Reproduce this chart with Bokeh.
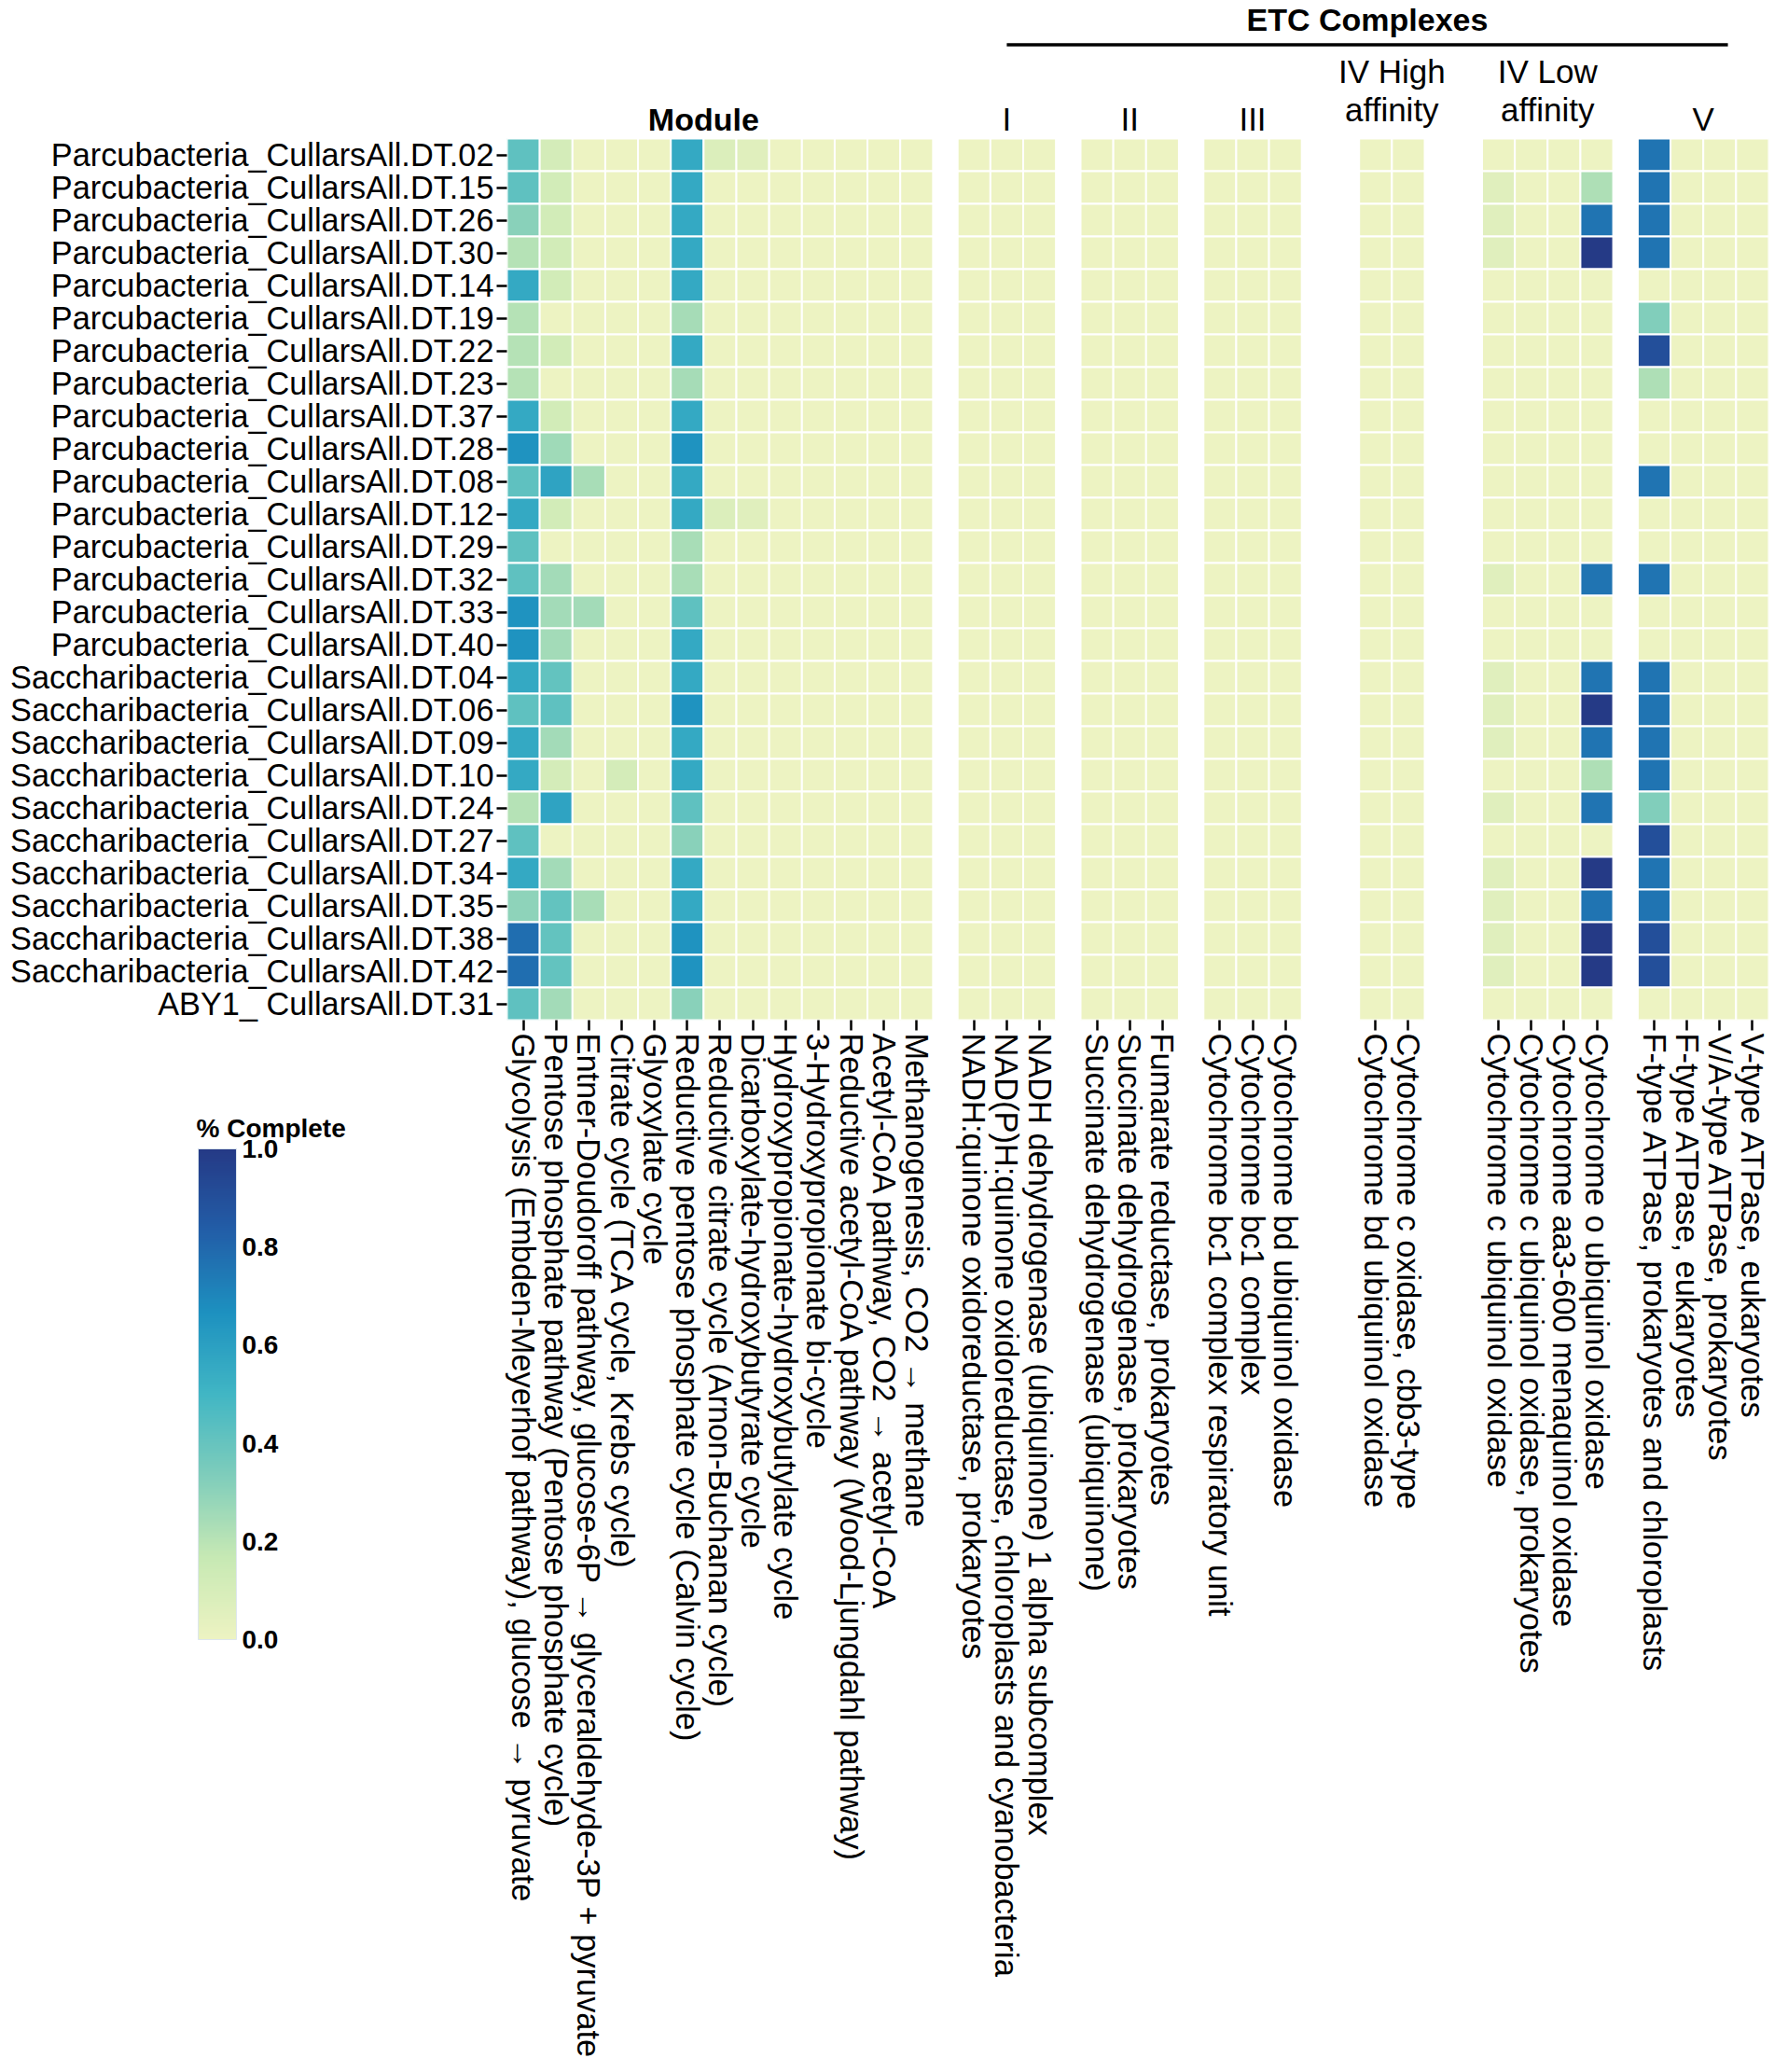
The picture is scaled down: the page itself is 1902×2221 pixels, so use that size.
import numpy as np
from bokeh.plotting import figure
from bokeh.models import (ColumnDataSource, LinearColorMapper, ColorBar, FixedTicker,
                          Range1d, PrintfTickFormatter)
from bokeh.core.properties import value
from bokeh.embed import file_html
from bokeh.resources import INLINE

# ---------------- data ----------------
genomes = [
    "Parcubacteria_CullarsAll.DT.02", "Parcubacteria_CullarsAll.DT.15",
    "Parcubacteria_CullarsAll.DT.26", "Parcubacteria_CullarsAll.DT.30",
    "Parcubacteria_CullarsAll.DT.14", "Parcubacteria_CullarsAll.DT.19",
    "Parcubacteria_CullarsAll.DT.22", "Parcubacteria_CullarsAll.DT.23",
    "Parcubacteria_CullarsAll.DT.37", "Parcubacteria_CullarsAll.DT.28",
    "Parcubacteria_CullarsAll.DT.08", "Parcubacteria_CullarsAll.DT.12",
    "Parcubacteria_CullarsAll.DT.29", "Parcubacteria_CullarsAll.DT.32",
    "Parcubacteria_CullarsAll.DT.33", "Parcubacteria_CullarsAll.DT.40",
    "Saccharibacteria_CullarsAll.DT.04", "Saccharibacteria_CullarsAll.DT.06",
    "Saccharibacteria_CullarsAll.DT.09", "Saccharibacteria_CullarsAll.DT.10",
    "Saccharibacteria_CullarsAll.DT.24", "Saccharibacteria_CullarsAll.DT.27",
    "Saccharibacteria_CullarsAll.DT.34", "Saccharibacteria_CullarsAll.DT.35",
    "Saccharibacteria_CullarsAll.DT.38", "Saccharibacteria_CullarsAll.DT.42",
    "ABY1_ CullarsAll.DT.31",
]

module_names = [
    "Glycolysis (Embden-Meyerhof pathway), glucose \u2192 pyruvate",
    "Pentose phosphate pathway (Pentose phosphate cycle)",
    "Entner-Doudoroff pathway, glucose-6P \u2192 glyceraldehyde-3P + pyruvate",
    "Citrate cycle (TCA cycle, Krebs cycle)",
    "Glyoxylate cycle",
    "Reductive pentose phosphate cycle (Calvin cycle)",
    "Reductive citrate cycle (Arnon-Buchanan cycle)",
    "Dicarboxylate-hydroxybutyrate cycle",
    "Hydroxypropionate-hydroxybutylate cycle",
    "3-Hydroxypropionate bi-cycle",
    "Reductive acetyl-CoA pathway (Wood-Ljungdahl pathway)",
    "Acetyl-CoA pathway, CO2 \u2192 acetyl-CoA",
    "Methanogenesis, CO2 \u2192 methane",
]
complex_I = ["NADH:quinone oxidoreductase, prokaryotes",
             "NAD(P)H:quinone oxidoreductase, chloroplasts and cyanobacteria",
             "NADH dehydrogenase (ubiquinone) 1 alpha subcomplex"]
complex_II = ["Succinate dehydrogenase (ubiquinone)",
              "Succinate dehydrogenase, prokaryotes",
              "Fumarate reductase, prokaryotes"]
complex_III = ["Cytochrome bc1 complex respiratory unit",
               "Cytochrome bc1 complex",
               "Cytochrome bd ubiquinol oxidase"]
complex_IV_high = ["Cytochrome bd ubiquinol oxidase",
                   "Cytochrome c oxidase, cbb3-type"]
complex_IV_low = ["Cytochrome c ubiquinol oxidase",
                  "Cytochrome c ubiquinol oxidase, prokaryotes",
                  "Cytochrome aa3-600 menaquinol oxidase",
                  "Cytochrome o ubiquinol oxidase"]
complex_V = ["F-type ATPase, prokaryotes and chloroplasts",
             "F-type ATPase, eukaryotes",
             "V/A-type ATPase, prokaryotes",
             "V-type ATPase, eukaryotes"]

group_top_labels = ["", "", "", "IV High", "IV Low", ""]
group_bottom_labels = ["I", "II", "III", "affinity", "affinity", "V"]

# fraction complete per column (27 genomes, top to bottom)
zero_col = [0, 0, 0, 0, 0, 0, 0, 0, 0, 0, 0, 0, 0, 0, 0, 0, 0, 0, 0, 0, 0, 0, 0, 0, 0, 0, 0]
glycolysis = [0.42, 0.42, 0.31, 0.21, 0.56, 0.21, 0.21, 0.21, 0.56, 0.66, 0.42, 0.56, 0.42, 0.42,
              0.66, 0.66, 0.56, 0.42, 0.56, 0.56, 0.21, 0.42, 0.56, 0.30, 0.78, 0.78, 0.42]
pentose_phosphate = [0.11, 0.12, 0.12, 0.12, 0.12, 0, 0.12, 0, 0.12, 0.26, 0.585, 0.12, 0, 0.25,
                     0.25, 0.25, 0.41, 0.42, 0.25, 0.11, 0.585, 0, 0.25, 0.41, 0.41, 0.41, 0.25]
entner_doudoroff = [0, 0, 0, 0, 0, 0, 0, 0, 0, 0, 0.24, 0, 0, 0,
                    0.25, 0, 0, 0, 0, 0, 0, 0, 0, 0.24, 0, 0, 0]
citrate_cycle = [0, 0, 0, 0, 0, 0, 0, 0, 0, 0, 0, 0, 0, 0,
                 0, 0, 0, 0, 0, 0.11, 0, 0, 0, 0, 0, 0, 0]
calvin_cycle = [0.56, 0.56, 0.56, 0.56, 0.56, 0.245, 0.56, 0.245, 0.56, 0.66, 0.56, 0.56, 0.24, 0.24,
                0.42, 0.56, 0.56, 0.66, 0.56, 0.56, 0.42, 0.31, 0.56, 0.56, 0.66, 0.66, 0.31]
reductive_citrate = [0.08, 0, 0, 0, 0, 0, 0, 0, 0, 0, 0, 0.08, 0, 0,
                     0, 0, 0, 0, 0, 0, 0, 0, 0, 0, 0, 0, 0]
dicarboxylate = [0.06, 0, 0, 0, 0, 0, 0, 0, 0, 0, 0, 0.06, 0, 0,
                 0, 0, 0, 0, 0, 0, 0, 0, 0, 0, 0, 0, 0]
cyt_c_ubiquinol = [0, 0.06, 0.06, 0.06, 0, 0, 0, 0, 0, 0, 0, 0, 0, 0.06,
                   0, 0, 0.06, 0.06, 0.06, 0, 0.06, 0, 0.06, 0.06, 0.06, 0.06, 0]
cyt_o_ubiquinol = [0, 0.225, 0.76, 1.0, 0, 0, 0, 0, 0, 0, 0, 0, 0, 0.76,
                   0, 0, 0.76, 1.0, 0.76, 0.225, 0.76, 0, 1.0, 0.76, 1.0, 1.0, 0]
f_type_prok = [0.76, 0.76, 0.76, 0.76, 0, 0.33, 0.9, 0.225, 0, 0, 0.76, 0, 0, 0.76,
               0, 0, 0.76, 0.76, 0.76, 0.76, 0.33, 0.9, 0.76, 0.76, 0.9, 0.9, 0]

module_values = [glycolysis, pentose_phosphate, entner_doudoroff, citrate_cycle, zero_col,
                 calvin_cycle, reductive_citrate, dicarboxylate, zero_col, zero_col,
                 zero_col, zero_col, zero_col]
I_values = [zero_col, zero_col, zero_col]
II_values = [zero_col, zero_col, zero_col]
III_values = [zero_col, zero_col, zero_col]
IVh_values = [zero_col, zero_col]
IVl_values = [cyt_c_ubiquinol, zero_col, zero_col, cyt_o_ubiquinol]
V_values = [f_type_prok, zero_col, zero_col, zero_col]

colorbar_ticks = [0.0, 0.2, 0.4, 0.6, 0.8, 1.0]
colorbar_title = "% Complete"

# ---------------- layout / style ----------------
FONT = "Liberation Sans"
W, H = 1900, 2219
FRAME_LEFT, FRAME_RIGHT = 543, 1896
HEAT_TOP, HEAT_BOTTOM = 148, 1093
groups_cols = [module_names, complex_I, complex_II, complex_III, complex_IV_high,
               complex_IV_low, complex_V]
groups_vals = [module_values, I_values, II_values, III_values, IVh_values, IVl_values, V_values]
gaps_after = [0.75, 0.75, 0.75, 1.75, 1.75, 0.75]

n_rows = len(genomes)
col_x, col_names, group_centers = [], [], []
start = 0.0
for gi, names in enumerate(groups_cols):
    for k, nm in enumerate(names):
        col_x.append(start + k + 0.5)
        col_names.append(nm)
    group_centers.append(start + len(names) / 2.0)
    start += len(names)
    if gi < len(gaps_after):
        start += gaps_after[gi]
x_end = start

row_y = [n_rows - i - 0.5 for i in range(n_rows)]
px_per_row = (HEAT_BOTTOM - HEAT_TOP) / n_rows
header_units = HEAT_TOP / px_per_row

xs, ys, vals = [], [], []
ci = 0
for gvals in groups_vals:
    for col in gvals:
        for ri, v in enumerate(col):
            xs.append(col_x[ci]); ys.append(row_y[ri]); vals.append(v)
        ci += 1
src = ColumnDataSource(dict(x=xs, y=ys, val=vals))

stops = ["#edf3c2", "#c7e9b4", "#7fcdbb", "#41b6c4", "#1d91c0", "#225ea8", "#253a86"]
def _hex(c):
    return np.array([int(c[i:i + 2], 16) for i in (1, 3, 5)], dtype=float)
stop_rgb = [_hex(c) for c in stops]
palette = []
for t in np.linspace(0, 1, 256):
    pos = t * (len(stops) - 1)
    i0 = min(int(pos), len(stops) - 2)
    f = pos - i0
    c = stop_rgb[i0] * (1 - f) + stop_rgb[i0 + 1] * f
    palette.append("#%02x%02x%02x" % tuple(int(round(v)) for v in c))
mapper = LinearColorMapper(palette=palette, low=0, high=1)

p = figure(width=W, height=H, x_range=Range1d(0, x_end),
           y_range=Range1d(0, n_rows + header_units),
           output_backend="svg", toolbar_location=None,
           min_border_left=FRAME_LEFT, min_border_right=W - FRAME_RIGHT, min_border_top=0,
           min_border_bottom=H - HEAT_BOTTOM)
p.grid.visible = False
p.outline_line_color = None

p.rect(x="x", y="y", width=1, height=1, source=src,
       fill_color={"field": "val", "transform": mapper},
       line_color="white", line_width=2)

def style_axis(ax, size):
    ax.axis_line_color = None
    ax.major_tick_line_color = "black"
    ax.major_tick_line_width = 2.5
    ax.major_tick_out = 11
    ax.major_tick_in = 0
    ax.minor_tick_line_color = None
    ax.major_label_standoff = 3
    ax.major_label_text_font = FONT
    ax.major_label_text_color = "black"
    ax.major_label_text_font_size = size

p.xaxis.ticker = FixedTicker(ticks=col_x)
p.xaxis.major_label_overrides = {x: nm for x, nm in zip(col_x, col_names)}
p.xaxis.major_label_orientation = -np.pi / 2
style_axis(p.xaxis[0], "34.4px")
p.yaxis.ticker = FixedTicker(ticks=row_y)
p.yaxis.major_label_overrides = {y: nm for y, nm in zip(row_y, genomes)}
style_axis(p.yaxis[0], "34.3px")

top = float(n_rows)
def above(px):
    return top + px / px_per_row

p.text(x=[6.0], y=[above(21)], text=["Module"], text_font=value(FONT),
       text_font_size="34px", text_font_style="bold", text_align="center",
       text_baseline="middle", text_color="black")
etc_centers = group_centers[1:]
single = [i for i, t in enumerate(group_top_labels) if t == ""]
double = [i for i, t in enumerate(group_top_labels) if t != ""]
p.text(x=[etc_centers[i] for i in single], y=[above(21.5)] * len(single),
       text=[group_bottom_labels[i] for i in single], text_font=value(FONT),
       text_font_size="35px", text_align="center", text_baseline="middle",
       text_color="black")
p.text(x=[etc_centers[i] for i in double], y=[above(31.5)] * len(double),
       text=[group_bottom_labels[i] for i in double], text_font=value(FONT),
       text_font_size="35px", text_align="center", text_baseline="middle",
       text_color="black")
p.text(x=[etc_centers[i] for i in double], y=[above(72.5)] * len(double),
       text=[group_top_labels[i] for i in double], text_font=value(FONT),
       text_font_size="35px", text_align="center", text_baseline="middle",
       text_color="black")
etc_x0 = group_centers[1]
etc_x1 = group_centers[-1] + 0.75
p.segment(x0=[etc_x0], y0=[above(100.5)], x1=[etc_x1], y1=[above(100.5)],
          line_color="black", line_width=3.5)
p.text(x=[(etc_x0 + etc_x1) / 2], y=[above(128)], text=["ETC Complexes"],
       text_font=value(FONT), text_font_size="34px", text_font_style="bold",
       text_align="center", text_baseline="middle", text_color="black")

# colour bar: located in screen px from the frame's bottom-left corner
CB_LEFT, CB_BOTTOM, CB_W, CB_H = 212, 1757, 41, 526
cb = ColorBar(color_mapper=mapper, location=(CB_LEFT - FRAME_LEFT, HEAT_BOTTOM - CB_BOTTOM),
              width=CB_W, height=CB_H,
              ticker=FixedTicker(ticks=colorbar_ticks),
              formatter=PrintfTickFormatter(format="%.1f"),
              major_label_text_font=FONT, major_label_text_font_size="28px",
              major_label_text_font_style="bold", major_label_text_color="black",
              label_standoff=6, major_tick_line_color=None, minor_tick_line_color=None,
              bar_line_color="#dde6ee", bar_line_width=1,
              border_line_color=None, background_fill_color=None,
              padding=0, margin=0)
p.add_layout(cb, "center")

# horizontal heading for the colour bar (a bar-less horizontal colour bar carrying the title)
TITLE_BAR_BOTTOM = 1227
cb_title = ColorBar(color_mapper=mapper, orientation="horizontal",
                    location=(CB_LEFT - 2 - FRAME_LEFT, HEAT_BOTTOM - TITLE_BAR_BOTTOM),
                    width=164, height=1, scale_alpha=0,
                    ticker=FixedTicker(ticks=[]), major_label_text_alpha=0,
                    major_tick_line_color=None, minor_tick_line_color=None,
                    bar_line_color=None, border_line_color=None, background_fill_color=None,
                    title=colorbar_title, title_text_font=FONT, title_text_font_size="28px",
                    title_text_font_style="bold", title_text_color="black",
                    title_standoff=4, label_standoff=0, padding=0, margin=0)
p.add_layout(cb_title, "center")

open("out.html", "w").write(file_html(p, INLINE))
